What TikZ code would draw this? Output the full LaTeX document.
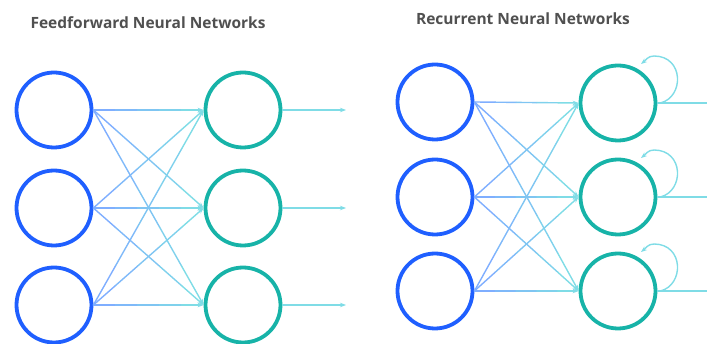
\documentclass[tikz,border=0pt]{standalone}
\usepackage{fontspec}
\setmainfont{Open Sans}
\usetikzlibrary{arrows.meta,calc}
\definecolor{inblue}{HTML}{1F5FFF}
\definecolor{hteal}{HTML}{17B3A8}
\definecolor{eblue}{HTML}{7FAEFF}
\definecolor{ecyan}{HTML}{7FDCE6}
\definecolor{titlegray}{HTML}{505050}
\newcommand{\gedge}[2]{%
  \foreach \k [evaluate=\k as \s using {\k/5}, evaluate=\k as \e using {(\k+1)/5}, evaluate=\k as \c using {100-\k*25}] in {0,...,4}{%
    \ifnum\k=4
      \draw[edgeline, -{Stealth[length=6pt,width=4.5pt]}, color=eblue!\c!ecyan] ($(#1.east)!\s!(#2.west)$) -- (#2.west);
    \else
      \draw[edgeline, color=eblue!\c!ecyan] ($(#1.east)!\s!(#2.west)$) -- ($(#1.east)!\e!(#2.west)$);
    \fi}}
\begin{document}
\begin{tikzpicture}[x=1pt,y=-1pt,
  inneuron/.style={circle, draw=inblue, line width=3.8pt, minimum size=75pt, inner sep=0pt},
  hneuron/.style={circle, draw=hteal, line width=3.8pt, minimum size=75pt, inner sep=0pt},
  edgeline/.style={line width=1.4pt, line cap=round},
  outline/.style={line width=1.4pt, draw=ecyan},
  loopline/.style={line width=1.4pt, draw=ecyan, -{Stealth[length=6pt,width=4.5pt]}},
  title/.style={font=\bfseries\fontsize{15.5}{18}\selectfont, text=titlegray, inner sep=0pt}]
\useasboundingbox (0,0) rectangle (707,344);
% titles
\node[title] (t1) at (148,23) {Feedforward Neural Networks};
\node[title] (t2) at (523,19) {Recurrent Neural Networks};
% feedforward
\node[inneuron] (fa1) at (54,110) {};
\node[inneuron] (fa2) at (54,208) {};
\node[inneuron] (fa3) at (54,305) {};
\node[hneuron] (fb1) at (243,110) {};
\node[hneuron] (fb2) at (243,208) {};
\node[hneuron] (fb3) at (243,305) {};
\foreach \i in {1,2,3}{\foreach \j in {1,2,3}{\gedge{fa\i}{fb\j}}}
\coordinate (fo1) at (346,110);
\coordinate (fo2) at (346,208);
\coordinate (fo3) at (346,305);
\foreach \i in {1,2,3}{\draw[outline, -{Stealth[length=6pt,width=4.5pt]}] (fb\i.east) -- (fo\i);}
% recurrent
\node[inneuron] (ra1) at (435,102) {};
\node[inneuron] (ra2) at (435,197) {};
\node[inneuron] (ra3) at (435,291) {};
\node[hneuron] (rb1) at (618,103) {};
\node[hneuron] (rb2) at (618,197) {};
\node[hneuron] (rb3) at (618,291) {};
\foreach \i in {1,2,3}{\foreach \j in {1,2,3}{\gedge{ra\i}{rb\j}}}
\coordinate (ro1) at (707,103);
\coordinate (ro2) at (707,197);
\coordinate (ro3) at (707,291);
\foreach \i in {1,2,3}{
  \draw[outline] (rb\i.east) -- (ro\i);
  \draw[loopline] ($(rb\i.east)+(3,0)$) .. controls +(24,-6) and +(30,0) .. ($(rb\i.center)+(36,-47)$)
     .. controls +(-6,0) and +(5,-4) .. ($(rb\i.center)+(23,-39)$);
}
\end{tikzpicture}
\end{document}
